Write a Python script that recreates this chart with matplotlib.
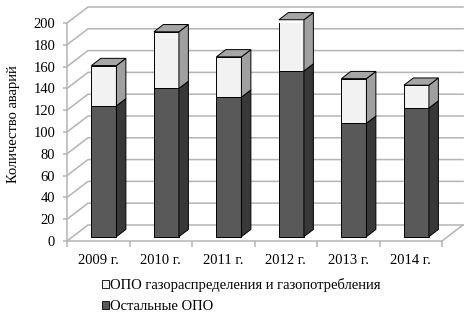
import matplotlib.pyplot as plt
from matplotlib.patches import Polygon, Patch

plt.rcParams['font.family'] = ['Liberation Serif', 'DejaVu Serif']

years = ['2009 г.', '2010 г.', '2011 г.', '2012 г.', '2013 г.', '2014 г.']
other_opo = [120, 136, 128, 152, 104, 118]
gas_opo = [37, 52, 37, 47, 41, 21]
yticks = list(range(0, 201, 20))

label_gas = 'ОПО газораспределения и газопотребления'
label_other = 'Остальные ОПО'

# pseudo-3d depth of the chart box (category units, value units)
DX, DY = 0.336, 14.7
F0, F1 = 0.27, 0.72  # bar front / back depth fraction
W = 0.4

c_dark, c_dark_side = '#595959', '#383838'
c_light, c_light_side = '#f2f2f2', '#a0a0a0'
c_top = '#a6a6a6'
c_grid = '#b4b4b4'

fig = plt.figure(figsize=(4.73, 3.19), dpi=100)
ax = fig.add_axes([67 / 473, 78 / 319, 375 / 473, 218 / 319])
ax.set_xlim(-0.5, 5.5)
ax.set_ylim(0, 200)

# walls and gridlines
for v in yticks:
    ax.plot([-0.5, -0.5 + DX, 5.5 + DX], [v, v + DY, v + DY],
            color=c_grid, lw=1.1, clip_on=False, zorder=1)
ax.plot([5.5, 5.5 + DX], [0, DY], color=c_grid, lw=1.1, clip_on=False, zorder=1)

# bars
xs = [i + DX * F0 for i in range(len(years))]
base = DY * F0
ax.bar(xs, other_opo, width=W, bottom=base, color=c_dark,
       edgecolor='black', lw=0.7, zorder=3)
tops = [o + base for o in other_opo]
ax.bar(xs, gas_opo, width=W, bottom=tops, color=c_light,
       edgecolor='black', lw=0.7, zorder=3)

ddx, ddy = DX * (F1 - F0), DY * (F1 - F0)
for x, o, g in zip(xs, other_opo, gas_opo):
    xr, xl = x + W / 2, x - W / 2
    b, m, t = base, base + o, base + o + g
    for lo, hi, col in [(b, m, c_dark_side), (m, t, c_light_side)]:
        ax.add_patch(Polygon([(xr, lo), (xr + ddx, lo + ddy), (xr + ddx, hi + ddy), (xr, hi)],
                             closed=True, fc=col, ec='black', lw=0.7, zorder=3, clip_on=False))
    ax.add_patch(Polygon([(xl, t), (xr, t), (xr + ddx, t + ddy), (xl + ddx, t + ddy)],
                         closed=True, fc=c_top, ec='black', lw=0.7, zorder=3, clip_on=False))

# axes
for s in ['top', 'right']:
    ax.spines[s].set_visible(False)
for s in ['left', 'bottom']:
    ax.spines[s].set_color(c_grid)
    ax.spines[s].set_linewidth(1.1)

ax.set_yticks(yticks)
ax.tick_params(axis='y', length=3, color=c_grid, width=1.1, pad=5.5, labelsize=10.5)
ax.set_xticks(range(len(years)))
ax.set_xticklabels(years)
ax.set_xticks([i - 0.5 for i in range(len(years) + 1)], minor=True)
ax.tick_params(axis='x', which='major', length=0, pad=9, labelsize=10.5)
ax.tick_params(axis='x', which='minor', length=4, color=c_grid, width=1.1)

fig.text(14 / 473, 1 - 124 / 319, 'Количество аварий', rotation=90,
         ha='center', va='center', fontsize=10.5)

handles = [Patch(fc=c_light, ec='black', lw=0.6, label=label_gas),
           Patch(fc=c_dark, ec='black', lw=0.6, label=label_other)]
fig.legend(handles=handles, loc='upper left', bbox_to_anchor=(102 / 473, 1 - 278 / 319),
           frameon=False, fontsize=10.5, handlelength=0.45, handleheight=0.45,
           handletextpad=0.1, labelspacing=0.55, borderpad=0, borderaxespad=0)

fig.savefig('out.png', dpi=100)
